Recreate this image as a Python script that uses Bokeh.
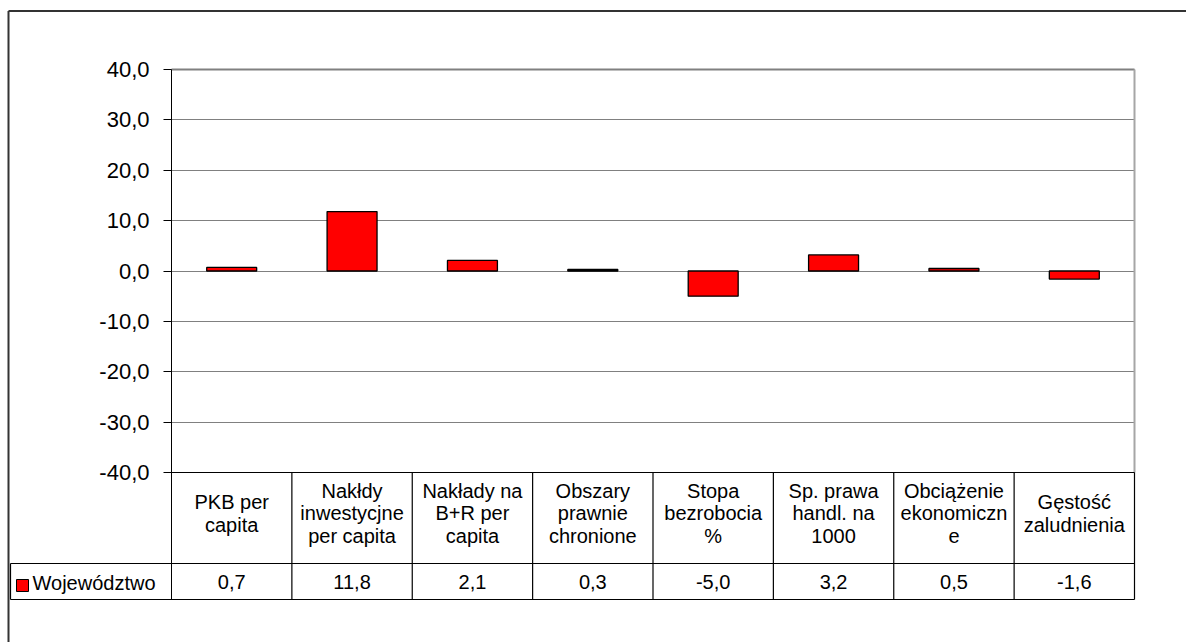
from bokeh.plotting import figure
from bokeh.models import Range1d, FixedTicker, ColumnDataSource
from bokeh.core.properties import value
from bokeh.embed import file_html
from bokeh.resources import INLINE

# ---------------- data ----------------
categories = [
    "PKB per\ncapita",
    "Nakłdy\ninwestycjne\nper capita",
    "Nakłady na\nB+R per\ncapita",
    "Obszary\nprawnie\nchronione",
    "Stopa\nbezrobocia\n%",
    "Sp. prawa\nhandl. na\n1000",
    "Obciążenie\nekonomiczn\ne",
    "Gęstość\nzaludnienia",
]
values = [0.7, 11.8, 2.1, 0.3, -5.0, 3.2, 0.5, -1.6]
series_name = "Województwo"
y_ticks = [-40, -30, -20, -10, 0, 10, 20, 30, 40]
y_tick_labels = ["-40,0", "-30,0", "-20,0", "-10,0", "0,0", "10,0", "20,0", "30,0", "40,0"]

# ---------------- layout (page pixels) ----------------
FIG_W, FIG_H = 1186, 642
PAGE_L, PAGE_T = 0, 0
AXIS_PX = 171.0          # page x of the value axis
COL_PX = 120.375         # width of one category column
TOP_PX, BOT_PX = 69.0, 472.0   # page y of +40 / -40
Y_MAX, Y_MIN = 40.0, -40.0
Y_SCALE = (BOT_PX - TOP_PX) / (Y_MAX - Y_MIN)
ZERO_PX = TOP_PX + Y_MAX * Y_SCALE


def px_x(px):
    return (px - AXIS_PX) / COL_PX


def px_y(py):
    return (ZERO_PX - py) / Y_SCALE


n = len(categories)
ROW1_BOT = px_y(563)
ROW2_BOT = px_y(599)
LEG_L = px_x(10)
FONT = "Liberation Sans"

p = figure(
    width=FIG_W, height=FIG_H,
    x_range=Range1d(px_x(PAGE_L), px_x(PAGE_L + FIG_W)),
    y_range=Range1d(px_y(PAGE_T + FIG_H), px_y(PAGE_T)),
    output_backend="svg", toolbar_location=None,
    min_border=0, min_border_left=0, min_border_right=0,
    min_border_top=0, min_border_bottom=0,
)
p.outline_line_color = None
p.background_fill_color = "white"
p.border_fill_color = "white"
p.xaxis.visible = False
p.xgrid.visible = False

# y axis placed at x = 0 inside the frame
ax = p.yaxis[0]
ax.fixed_location = 0
ax.bounds = (ROW2_BOT, Y_MAX)
ax.ticker = FixedTicker(ticks=y_ticks)
ax.major_label_overrides = {t: l for t, l in zip(y_ticks, y_tick_labels)}
ax.minor_tick_line_color = None
ax.major_tick_out = 8
ax.major_tick_in = 0
ax.major_tick_line_color = "#000000"
ax.axis_line_color = "#000000"
ax.axis_line_width = 1
ax.major_label_standoff = 14
ax.major_label_text_font = FONT
ax.major_label_text_font_size = "22px"
ax.major_label_text_color = "#000000"

# grid
g = p.ygrid[0]
g.ticker = FixedTicker(ticks=y_ticks)
g.grid_line_color = "#808080"
g.grid_line_width = 1
g.bounds = (Y_MIN, Y_MAX)
try:
    g.cross_bounds = (0, n)
except Exception:
    g.visible = False
    p.segment(x0=[0] * len(y_ticks), x1=[n] * len(y_ticks), y0=y_ticks, y1=y_ticks,
              line_color="#808080", line_width=1, level="underlay")

# plot-area border (top / right)
p.segment(x0=[0], x1=[n], y0=[Y_MAX], y1=[Y_MAX], line_color="#808080", line_width=2)
p.segment(x0=[n], x1=[n], y0=[Y_MIN], y1=[Y_MAX], line_color="#a6a6a6", line_width=2)

# bars
src = ColumnDataSource(dict(x=[i + 0.5 for i in range(n)], top=values))
p.vbar(x="x", top="top", bottom=0, width=0.415, source=src,
       fill_color="#ff0000", line_color="#000000", line_width=1.3)

# data table lines
p.segment(x0=[0, LEG_L, LEG_L], x1=[n, n, n], y0=[Y_MIN, ROW1_BOT, ROW2_BOT],
          y1=[Y_MIN, ROW1_BOT, ROW2_BOT], line_color="#000000", line_width=1.2)
p.segment(x0=list(range(1, n + 1)), x1=list(range(1, n + 1)),
          y0=[Y_MIN] * n, y1=[ROW2_BOT] * n, line_color="#000000", line_width=1.2)
p.segment(x0=[LEG_L], x1=[LEG_L], y0=[ROW1_BOT], y1=[ROW2_BOT],
          line_color="#000000", line_width=1.2)

# category labels
p.text(x=[i + 0.5 for i in range(n)], y=[px_y(513)] * n, text=categories,
       text_font=value(FONT), text_font_size="20px", text_align="center",
       text_baseline="middle", text_line_height=1.04, text_color="#000000")
# values row
val_txt = [f"{v:.1f}".replace(".", ",") for v in values]
p.text(x=[i + 0.5 for i in range(n)], y=[px_y(581)] * n, text=val_txt,
       text_font=value(FONT), text_font_size="20px", text_align="center",
       text_baseline="middle", text_color="#000000")
# legend key
p.scatter(x=[px_x(22)], y=[px_y(585)], marker="square", size=12,
          fill_color="#ff0000", line_color="#000000", line_width=1)
p.text(x=[px_x(32)], y=[px_y(582)], text=[series_name],
       text_font=value(FONT), text_font_size="20px", text_align="left",
       text_baseline="middle", text_color="#000000")

# outer chart border (top and left edges visible)
p.segment(x0=[px_x(8), px_x(8)], x1=[px_x(8), px_x(PAGE_L + FIG_W)],
          y0=[px_y(10.5), px_y(10.5)], y1=[px_y(PAGE_T + FIG_H), px_y(10.5)],
          line_color="#333333", line_width=2)

open("out.html", "w").write(file_html(p, INLINE))
